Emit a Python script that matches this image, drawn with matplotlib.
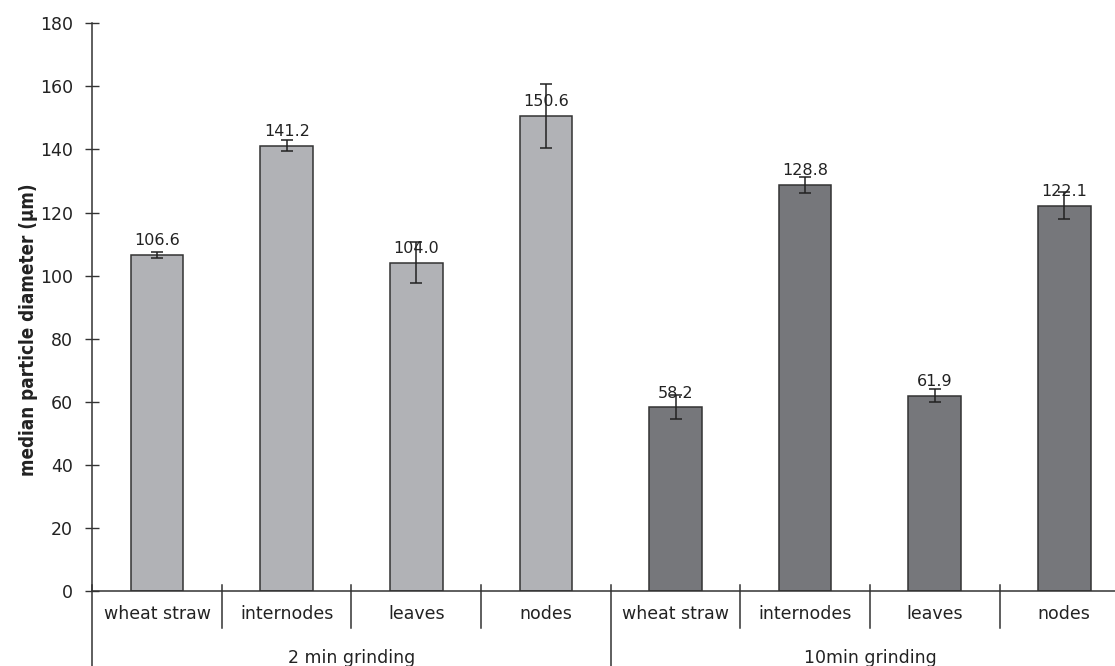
import numpy as np
import matplotlib
matplotlib.use("Agg")
from matplotlib import pyplot as plt
from matplotlib import transforms

# data
categories = ["wheat straw", "internodes", "leaves", "nodes"]
groups = ["2 min grinding", "10min grinding"]
values_2min = [106.6, 141.2, 104.0, 150.6]
err_2min = [1.0, 1.8, 6.5, 10.0]
values_10min = [58.2, 128.8, 61.9, 122.1]
err_10min = [3.8, 2.6, 2.0, 4.3]
yticks = [0, 20, 40, 60, 80, 100, 120, 140, 160, 180]

light = "#b1b2b6"
dark = "#76777b"
edge = "#333333"
txt = "#222222"

W, H = 1115, 666
ax_left, ax_top, ax_bot = 92.3, 23.3, 591.0
cat_w = 129.6  # px per category

plt.rcParams["font.family"] = "DejaVu Sans"
fig = plt.figure(figsize=(W / 100, H / 100), dpi=100)
ax = fig.add_axes([ax_left / W, 1 - ax_bot / H, 1 - ax_left / W, (ax_bot - ax_top) / H])

n = len(categories)
x1 = np.arange(n)
x2 = np.arange(n) + n
bw = 0.405
ebk = dict(ecolor=txt, elinewidth=1.1, capsize=4.5, capthick=1.1)
ax.bar(x1, values_2min, bw, yerr=err_2min, color=light, edgecolor=edge, linewidth=1.1, error_kw=ebk, zorder=2)
ax.bar(x2, values_10min, bw, yerr=err_10min, color=dark, edgecolor=edge, linewidth=1.1, error_kw=ebk, zorder=2)

for xs, vals in [(x1, values_2min), (x2, values_10min)]:
    for x, v in zip(xs, vals):
        ax.annotate(f"{v:.1f}", (x, v), xytext=(0, 7), textcoords="offset points",
                    ha="center", va="baseline", fontsize=11.5, color=txt, zorder=3)

ax.set_ylim(0, 180)
ax.set_xlim(-0.5, (W - ax_left) / cat_w - 0.5)
ax.set_yticks(yticks)
ax.tick_params(axis="y", direction="inout", length=10, width=1, color=edge, pad=9,
               labelsize=12.5, labelcolor=txt)
ax.set_xticks(np.arange(2 * n))
ax.set_xticklabels(categories * 2)
ax.tick_params(axis="x", length=0, pad=10, labelsize=12.5, labelcolor=txt)
for s in ["top", "right"]:
    ax.spines[s].set_visible(False)
for s in ["left", "bottom"]:
    ax.spines[s].set_color(edge)
    ax.spines[s].set_linewidth(1.1)

ax.set_ylabel("median particle diameter (µm)", fontsize=13.5, fontweight="bold",
              fontstretch="condensed", color=txt)
ax.yaxis.set_label_coords((38 - ax_left) / (W - ax_left), (ax_bot - 330) / (ax_bot - ax_top))

# category dividers below the axis
tr = transforms.blended_transform_factory(ax.transData, fig.transFigure)
for k in range(2 * n + 1):
    xb = k - 0.5
    y_end = 0 if k % n == 0 else 1 - 628 / H
    ax.plot([xb, xb], [1 - 585 / H, y_end], color=edge, lw=1.1, transform=tr, clip_on=False)

for g, name in enumerate(groups):
    ax.text(g * n + (n - 1) / 2, 1 - 663 / H, name, transform=tr, ha="center", va="baseline",
            fontsize=12.5, color=txt)

fig.savefig("out.png", dpi=100)
